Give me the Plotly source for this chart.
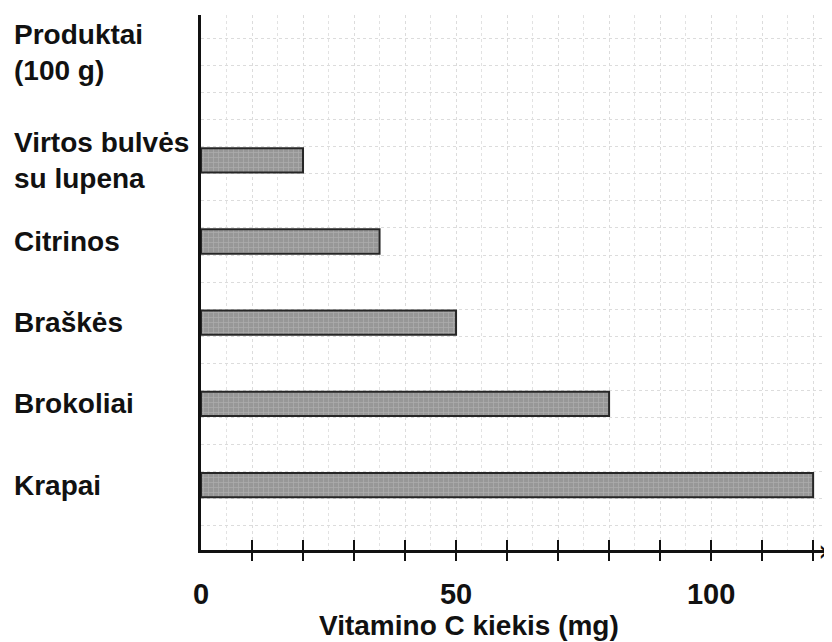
import plotly.graph_objects as go
import numpy as np

# Data
categories = ["Virtos bulvės<br>su lupena", "Citrinos", "Braškės", "Brokoliai", "Krapai"]
values = [20, 35, 50, 80, 120]
x_tick_vals = [0, 10, 20, 30, 40, 50, 60, 70, 80, 90, 100, 110, 120]
x_tick_text = ["0", "", "", "", "", "50", "", "", "", "", "100", "", ""]
y_title = "Produktai<br>(100 g)"
x_title = "Vitamino C kiekis (mg)"

FONT = "Liberation Sans, Arial, Helvetica, sans-serif"
OFF = 8  # page body margin
W, H = 832 - OFF, 642 - OFF
L, R, T = 201 - OFF, 0, 15 - OFF
B = H - (550 - OFF)
pw = W - L - R
ph = H - T - B

ypos = list(range(len(categories)))

fig = go.Figure()
fig.add_trace(go.Bar(
    x=values, y=ypos, orientation="h", width=0.3,
    marker=dict(color="#9a9a9a",
                line=dict(color="#262626", width=2),
                pattern=dict(shape="+", fgcolor="#c4c4c4", bgcolor="#979797",
                             size=5, solidity=0.25)),
    showlegend=False, hoverinfo="skip",
))
# empty trace to create the overlay axis for outward ticks
fig.add_trace(go.Scatter(x=[None], y=[None], xaxis="x2", yaxis="y",
                         showlegend=False, hoverinfo="skip"))

xrange = [0, 123.7]
grid_y = list(np.arange(-1.5 - 1/3, 4.9, 1/3))

fig.update_layout(
    width=W, height=H,
    margin=dict(l=L, r=R, t=T, b=B),
    paper_bgcolor="white", plot_bgcolor="white",
    font=dict(family=FONT, color="#111", size=28),
    xaxis=dict(
        range=xrange, tickmode="array", tickvals=x_tick_vals, ticktext=x_tick_text,
        ticks="inside", ticklen=10, tickwidth=2, tickcolor="#111",
        showline=True, linecolor="#111", linewidth=2.5,
        showgrid=True, gridcolor="#dcdcdc", griddash="dot", gridwidth=1,
        minor=dict(tickmode="array", tickvals=list(range(0, 125, 5)),
                   showgrid=True, gridcolor="#e2e2e2", griddash="dot", ticks=""),
        tickfont=dict(family=FONT, size=29, color="#111", weight="bold"),
        ticklabelstandoff=16,
        zeroline=False, fixedrange=True,
    ),
    xaxis2=dict(
        overlaying="x", side="bottom", anchor="y",
        range=xrange, tickmode="array", tickvals=x_tick_vals[1:],
        ticks="outside", ticklen=10, tickwidth=2, tickcolor="#111",
        showticklabels=False, showgrid=False, showline=False, zeroline=False,
    ),
    yaxis=dict(
        range=[4.8, -1.79], tickmode="array", tickvals=grid_y,
        showticklabels=False, ticks="",
        showgrid=True, gridcolor="#dcdcdc", griddash="dot", gridwidth=1,
        showline=True, linecolor="#111", linewidth=2.5,
        zeroline=False, fixedrange=True,
    ),
)

label_x = -(L - (12 - OFF)) / pw
for yi, cat in zip(ypos, categories):
    fig.add_annotation(x=label_x, xref="paper", y=yi, yref="y", text=cat,
                       showarrow=False, xanchor="left", yanchor="middle", align="left",
                       font=dict(family=FONT, size=28, color="#111", weight="bold"))

fig.add_annotation(x=label_x, xref="paper", y=(550 - 52) / ph, yref="paper",
                   text=y_title, showarrow=False, xanchor="left", yanchor="middle",
                   align="left", font=dict(family=FONT, size=28, color="#111", weight="bold"))

fig.add_annotation(x=(469 - 201) / pw, xref="paper", y=-(625 - 550) / ph, yref="paper",
                   text=x_title, showarrow=False, xanchor="center", yanchor="middle",
                   font=dict(family=FONT, size=28, color="#111", weight="bold"))

fig.add_annotation(x=1.0, xref="paper", y=0, yref="paper", text="›",
                   showarrow=False, xanchor="right", yanchor="middle",
                   font=dict(family="DejaVu Sans", size=30, color="#111"))

fig.write_html("out.html")
